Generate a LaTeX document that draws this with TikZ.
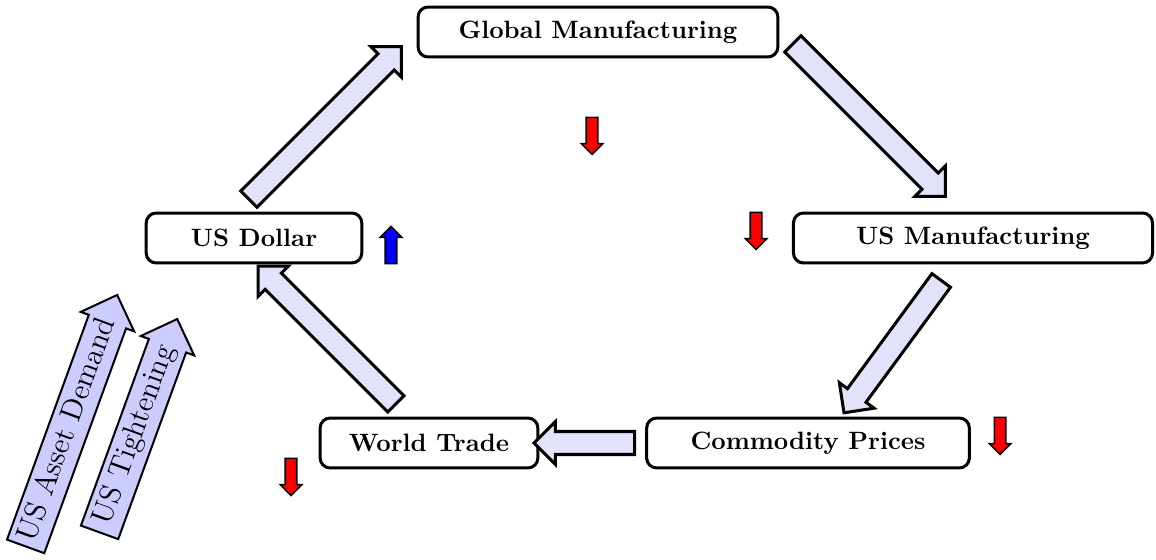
\documentclass[tikz,border=0pt]{standalone}
\usepackage{tikz}
\usetikzlibrary{shapes.arrows, calc}
\definecolor{flowFill}{RGB}{226,226,250}
\definecolor{drvFill}{RGB}{204,204,255}

\begin{document}
\begin{tikzpicture}[
    x=0.014cm, y=-0.014cm,
    box/.style={rectangle, draw, very thick, rounded corners=4pt, minimum height=0.7cm, align=center, font=\bfseries},
    flow/.style={single arrow, draw, very thick, fill=flowFill, inner sep=0.14cm, single arrow head extend=0.14cm},
    trend/.style={single arrow, draw, semithick, inner sep=0.07cm, single arrow head extend=0.07cm, minimum height=0.52cm},
    fall/.style={trend, fill=red, rotate=-90},
    rise/.style={trend, fill=blue, rotate=90},
    driver/.style={single arrow, draw, thick, fill=drvFill, font=\large, inner xsep=2pt, inner ysep=2pt, text height=8.5pt, text depth=2.5pt, single arrow head extend=0.12cm, rotate=70}
]
\useasboundingbox (0,0) rectangle (1156,560);

% --- The cycle ---
\node[box, minimum width=5.04cm] (global) at (598,32) {Global Manufacturing};
\node[box, minimum width=5.03cm] (usmanu) at (973,238) {US Manufacturing};
\node[box, minimum width=4.52cm] (commod) at (808,443) {Commodity Prices};
\node[box, minimum width=3.05cm] (trade) at (429,443) {World Trade};
\node[box, minimum width=3.02cm] (dollar) at (254,238) {US Dollar};

% --- Links ---
\node[flow, minimum height=3.02cm, rotate=45] (dollar-global) at (321,127) {};
\node[flow, minimum height=3.02cm, rotate=-45] (global-usmanu) at (865,116) {};
\node[flow, minimum height=2.30cm, rotate=-126.3] (usmanu-commod) at (896,342) {};
\node[flow, minimum height=1.41cm, rotate=180] (commod-trade) at (590,443) {};
\node[flow, minimum height=2.73cm, rotate=135] (trade-dollar) at (331,339) {};

% --- Direction of change ---
\node[fall] (globalDown) at (592,133) {};
\node[fall] (usmanuDown) at (756,228) {};
\node[rise] (dollarUp) at (391,248) {};
\node[fall] (commodDown) at (1000,433) {};
\node[fall] (tradeDown) at (291,474) {};

% --- Drivers ---
\node[driver, minimum height=3.72cm] (assets) at (68,430) {US Asset Demand};
\node[driver, minimum height=3.18cm] (tighten) at (135,435) {US Tightening};

\end{tikzpicture}
\end{document}
